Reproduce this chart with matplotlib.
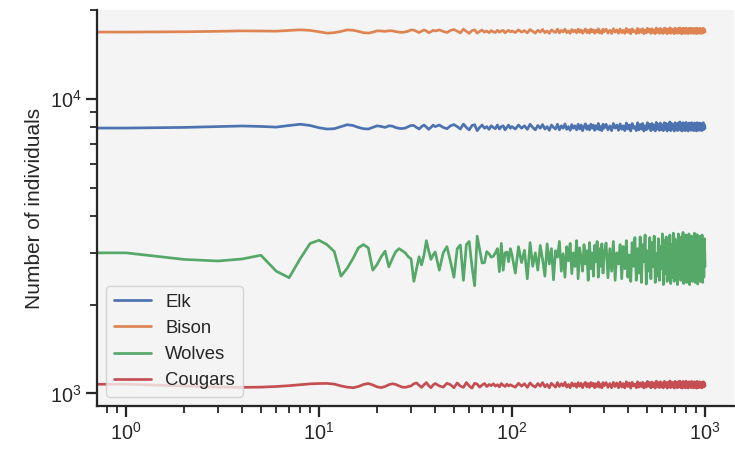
import matplotlib
matplotlib.use("Agg")
import matplotlib.pyplot as plt
import seaborn as sns

# time steps (sampling of the simulated series)
t = (list(range(0, 41)) + list(range(42, 101, 2))
     + list(range(104, 301, 4)) + list(range(307, 1001, 7)))

elk = [7950, 7960, 8000, 8050, 8090, 8060, 8020, 8120, 8200, 8120,
       7980, 7900, 7920, 8050, 8170, 8120, 8000, 7920, 7900, 8000,
       8100, 8060, 8000, 8100, 8080, 7990, 7940, 7930, 7960, 8050,
       8120, 8120, 8000, 7900, 8050, 8150, 8020, 7880, 8000, 8140,
       8050,
       8150, 8000, 7920, 8100, 8180, 8050, 7900, 8210, 8000, 7850,
       8120, 8170, 7800, 8000, 8150, 7950, 8050, 7880, 8100, 8000,
       7920, 8150, 7900, 8050, 8100, 7850, 8000, 8150, 7950, 8050,
       7900, 8150, 7950, 8100, 7880, 8200, 8000, 7850, 8120, 7950,
       8180, 7900, 8050, 7820, 8150, 8000, 7900, 8200, 7850, 8100,
       7950, 8220, 7880, 8050, 7820, 8180, 7950, 8100, 7850, 8200,
       7900, 8150, 7800, 8050, 8230, 7880, 8100, 7850, 8200, 7950,
       8150, 7820, 8100, 7900, 8250, 7850, 8050, 7800, 8200, 7950,
       8200, 7850, 8100, 7800, 8250, 7950, 8150, 7820, 8220, 7880,
       8100, 7800, 8280, 7900, 8150, 7780, 8250, 7950, 8050, 7800,
       8300, 7850, 8180, 7900, 8250, 7780, 8100, 7850, 8300, 7950,
       8200, 7800, 8250, 7880, 8150, 7780, 8320, 7900, 8200, 7820,
       8280, 7850, 8150, 7800, 8300, 7900, 8250, 7780, 8200, 7850,
       8350, 7800, 8250, 7900, 8150, 7780, 8300, 7850, 8220, 7800,
       8280, 7900, 8350, 7820, 8200, 7780, 8300, 7880, 8250, 7800,
       8320, 7850, 8200, 7780, 8280, 7900, 8250, 7820, 8300, 7850,
       8200, 7800, 8280, 7880, 8250, 7780, 8300, 7850, 8150, 7820,
       8280, 7900, 8250, 7800, 8200, 7850, 8300, 7880, 8150, 7950]

bison = [16850, 16860, 16900, 16960, 17020, 17000, 16980, 17080, 17160, 17080,
         16900, 16720, 16780, 16950, 17150, 17100, 16950, 16780, 16720, 16850,
         17020, 17000, 16950, 17030, 17020, 16920, 16850, 16820, 16880, 16980,
         17150, 17120, 16950, 16800, 16980, 17150, 17000, 16780, 16900, 17100,
         17000,
         17150, 16950, 16800, 17080, 17200, 16980, 16750, 17250, 16950, 16700,
         17050, 17150, 16720, 16950, 17120, 16850, 17000, 16780, 17050, 16900,
         16800, 17100, 16850, 17000, 17080, 16750, 16950, 17100, 16880, 17000,
         16800, 17150, 16850, 17050, 16750, 17200, 16950, 16720, 17100, 16850,
         17200, 16780, 17000, 16700, 17150, 16950, 16800, 17250, 16750, 17080,
         16880, 17250, 16780, 17000, 16700, 17200, 16900, 17100, 16750, 17250,
         16850, 17150, 16700, 17000, 17280, 16780, 17100, 16720, 17250, 16900,
         17150, 16700, 17080, 16850, 17300, 16750, 17000, 16680, 17250, 16900,
         17250, 16720, 17100, 16680, 17300, 16850, 17150, 16700, 17280, 16780,
         17100, 16680, 17350, 16820, 17200, 16650, 17300, 16900, 17050, 16680,
         17350, 16750, 17200, 16820, 17300, 16650, 17100, 16750, 17380, 16900,
         17250, 16680, 17300, 16800, 17150, 16650, 17400, 16820, 17250, 16700,
         17350, 16750, 17150, 16680, 17380, 16850, 17300, 16650, 17250, 16750,
         17420, 16700, 17300, 16850, 17150, 16650, 17380, 16750, 17280, 16700,
         17350, 16820, 17420, 16700, 17250, 16650, 17380, 16800, 17300, 16680,
         17400, 16750, 17250, 16650, 17350, 16850, 17300, 16700, 17380, 16750,
         17250, 16680, 17350, 16800, 17300, 16650, 17380, 16750, 17200, 16700,
         17350, 16850, 17300, 16680, 17250, 16750, 17380, 16800, 17200, 16900]

wolves = [3000, 3000, 2850, 2815, 2860, 2945, 2600, 2470, 2870, 3230,
          3310, 3200, 3030, 2500, 2660, 2870, 3120, 3200, 3120, 2620,
          2740, 2910, 3040, 2690, 2870, 3030, 3100, 3050, 3000, 2910,
          2860, 2400, 2650, 2910, 2730, 2950, 3300, 3050, 2850, 2950,
          3020,
          2620, 3000, 3150, 2800, 2480, 3100, 3190, 2420, 3200, 3280,
          2700, 2320, 3420, 3080, 2770, 2780, 3030, 2980, 2900, 2920,
          3000, 3100, 2590, 3230, 2620, 3000, 3020, 2800, 3100, 2950,
          2560, 3150, 2780, 3060, 2450, 3250, 2700, 3000, 2620, 3180,
          2850, 2500, 3220, 2750, 3100, 2430, 3050, 2900, 3280, 2600,
          2980, 2480, 3150, 2820, 3230, 2550, 3000, 2700, 3300, 2450,
          3120, 2880, 2600, 3200, 2750, 3050, 2420, 3250, 2650, 3000,
          2500, 3180, 2800, 3280, 2480, 3100, 2700, 3220, 2560, 2950,
          3240, 2470, 3100, 2600, 3280, 2420, 3000, 2750, 3200, 2450,
          3150, 2650, 3300, 2480, 2950, 2400, 3250, 2700, 3380, 2420,
          3100, 2560, 3400, 2380, 3200, 2800, 3450, 2350, 3050, 2600,
          3380, 2450, 3250, 2700, 3420, 2380, 2980, 2500, 3350, 2420,
          3150, 2650, 3480, 2340, 3300, 2550, 3400, 2400, 3050, 2700,
          3450, 2360, 3200, 2480, 3500, 2400, 3350, 2600, 3100, 2340,
          3480, 2500, 3250, 2420, 3400, 2650, 3520, 2360, 3150, 2450,
          3450, 2380, 3300, 2560, 3480, 2340, 3200, 2700, 3420, 2400,
          3350, 2450, 3500, 2380, 3100, 2600, 3460, 2350, 3300, 2500,
          3420, 2400, 3250, 2650, 3450, 2380, 3150, 2480, 3350, 2700]

cougars = [1076, 1074, 1060, 1051, 1048, 1050, 1055, 1062, 1070, 1077,
           1080, 1081, 1075, 1060, 1050, 1045, 1055, 1072, 1080, 1068,
           1052, 1046, 1055, 1070, 1078, 1072, 1060, 1050, 1048, 1055,
           1060, 1078, 1085, 1065, 1048, 1070, 1088, 1062, 1045, 1068,
           1080,
           1060, 1050, 1082, 1070, 1045, 1085, 1058, 1048, 1088, 1060,
           1042, 1082, 1075, 1050, 1068, 1080, 1055, 1072, 1062, 1078,
           1058, 1070, 1052, 1080, 1065, 1055, 1075, 1060, 1070, 1062,
           1050, 1082, 1058, 1078, 1048, 1085, 1062, 1050, 1080, 1058,
           1088, 1052, 1072, 1045, 1082, 1065, 1050, 1088, 1055, 1078,
           1060, 1090, 1050, 1072, 1045, 1085, 1060, 1078, 1048, 1088,
           1058, 1082, 1045, 1075, 1090, 1052, 1080, 1048, 1088, 1060,
           1082, 1045, 1078, 1055, 1092, 1050, 1072, 1044, 1088, 1060,
           1088, 1048, 1080, 1045, 1090, 1055, 1085, 1045, 1092, 1050,
           1080, 1044, 1095, 1055, 1085, 1042, 1090, 1060, 1075, 1045,
           1095, 1050, 1085, 1055, 1090, 1043, 1080, 1050, 1098, 1058,
           1088, 1044, 1092, 1052, 1085, 1042, 1100, 1055, 1088, 1046,
           1095, 1050, 1085, 1044, 1098, 1058, 1090, 1042, 1088, 1050,
           1102, 1046, 1092, 1055, 1085, 1042, 1098, 1050, 1090, 1045,
           1095, 1055, 1100, 1046, 1088, 1042, 1098, 1052, 1092, 1044,
           1100, 1050, 1088, 1042, 1095, 1058, 1092, 1046, 1098, 1050,
           1088, 1044, 1095, 1052, 1092, 1042, 1098, 1050, 1085, 1046,
           1095, 1058, 1090, 1044, 1088, 1050, 1095, 1052, 1085, 1060]

labels = ["Elk", "Bison", "Wolves", "Cougars"]
colors = ["#4C72B0", "#DD8452", "#55A868", "#C44E52"]

S = 1.3
sns.set_theme(style="ticks", rc={"axes.facecolor": "#f4f4f4"})
plt.rcParams["font.family"] = ["Liberation Sans", "DejaVu Sans"]
plt.rcParams.update({
    "axes.linewidth": 1.25 * S,
    "xtick.major.width": 1.25 * S, "ytick.major.width": 1.25 * S,
    "xtick.minor.width": 1.0 * S, "ytick.minor.width": 1.0 * S,
    "xtick.major.size": 6 * S, "ytick.major.size": 6 * S,
    "xtick.minor.size": 4 * S, "ytick.minor.size": 4 * S,
    "xtick.labelsize": 11 * S, "ytick.labelsize": 11 * S,
})

fig = plt.figure(figsize=(7.35, 4.49), dpi=100)
ax = fig.add_axes([0.132, 0.0958, 0.8667, 0.882])

for series, lab, col in zip([elk, bison, wolves, cougars], labels, colors):
    ax.plot(t, series, label=lab, color=col, lw=1.5 * S)

ax.set_xscale("log")
ax.set_yscale("log")
ax.set_xlim(0.708, 1413)
ax.set_ylim(906, 20040)
ax.set_ylabel("Number of individuals", fontsize=15)
ax.legend(loc="lower left", fontsize=13.3)
sns.despine(ax=ax)

fig.savefig("out.png", dpi=100)
